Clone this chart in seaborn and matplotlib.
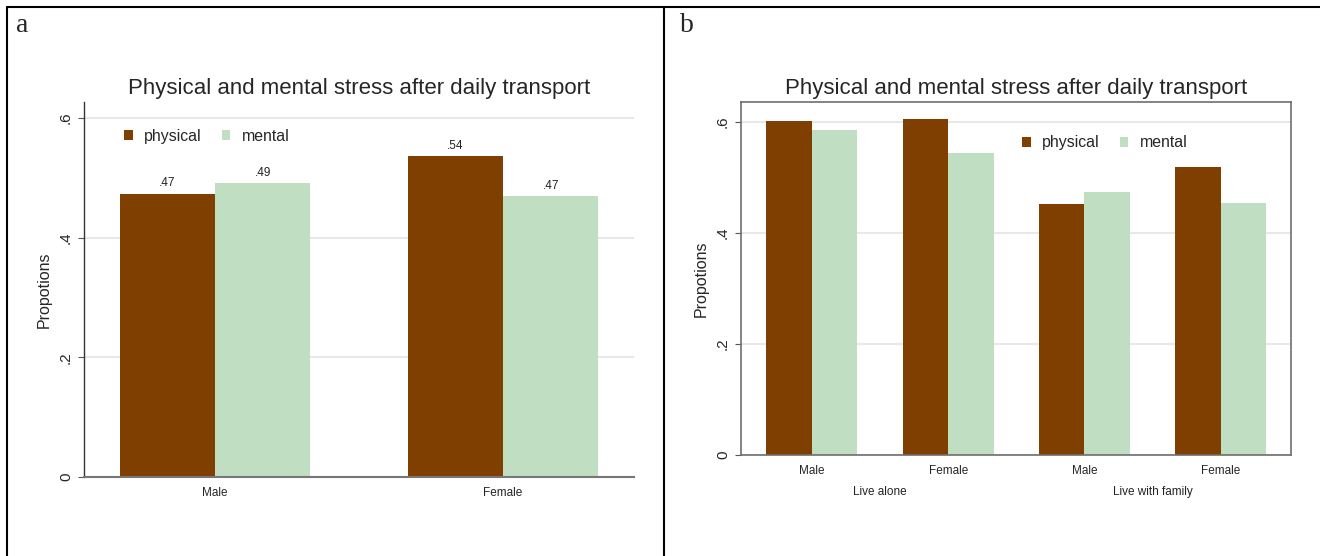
import matplotlib
matplotlib.use("Agg")
import matplotlib.pyplot as plt
import matplotlib.transforms as mtransforms
from matplotlib.lines import Line2D
import numpy as np
import pandas as pd
import seaborn as sns

# panel a: by sex
sex = ["Male", "Female"]
physical_a = [0.474, 0.536]
mental_a = [0.491, 0.469]

# panel b: by living situation and sex
living = ["Live alone", "Live alone", "Live with family", "Live with family"]
sex_b = ["Male", "Female", "Male", "Female"]
physical_b = [0.601, 0.606, 0.452, 0.519]
mental_b = [0.586, 0.545, 0.474, 0.454]

stress_order = ["physical", "mental"]
TITLE = "Physical and mental stress after daily transport"

df_a = pd.DataFrame({
    "sex": sex * 2,
    "stress": ["physical"] * len(sex) + ["mental"] * len(sex),
    "prop": physical_a + mental_a,
})
cells = [f"{l} {s}" for l, s in zip(living, sex_b)]
df_b = pd.DataFrame({
    "cell": cells * 2,
    "stress": ["physical"] * len(cells) + ["mental"] * len(cells),
    "prop": physical_b + mental_b,
})

sns.set_theme(style="white")
plt.rcParams["font.family"] = ["Liberation Sans", "DejaVu Sans"]
palette = {"physical": "#7F3F00", "mental": "#C0DEC2"}

W, H = 1320, 556
fig = plt.figure(figsize=(W / 100, H / 100), dpi=100)
ax_a = fig.add_axes([84 / W, (H - 477) / H, 550 / W, 375 / H])
ax_b = fig.add_axes([741 / W, (H - 455) / H, 550 / W, 353 / H])

sns.barplot(data=df_a, x="sex", y="prop", hue="stress", hue_order=stress_order,
            order=sex, palette=palette, width=0.663, saturation=1,
            linewidth=0, ax=ax_a)
sns.barplot(data=df_b, x="cell", y="prop", hue="stress", hue_order=stress_order,
            order=cells, palette=palette, width=0.668, saturation=1,
            linewidth=0, ax=ax_b)

# value labels only on panel a
for cont in ax_a.containers:
    ax_a.bar_label(cont, labels=[f"{v:.2f}".lstrip("0") for v in cont.datavalues],
                   padding=3, fontsize=8.5, color="#222222")


def style(ax, ymax, xlim, legend_xy):
    ax.set_ylim(0, ymax)
    ax.set_xlim(*xlim)
    ax.set_yticks([0, 0.2, 0.4, 0.6])
    ax.set_yticklabels(["0", ".2", ".4", ".6"])
    ax.tick_params(axis="y", length=4, width=0.8, color="#555555",
                   labelsize=11, pad=4, left=True)
    for lbl in ax.get_yticklabels():
        lbl.set_rotation(90)
        lbl.set_va("center")
    ax.tick_params(axis="x", length=0, labelsize=8.5, pad=7)
    ax.set_xlabel("")
    ax.set_ylabel("Propotions", fontsize=11.5, labelpad=5)
    ax.set_axisbelow(True)
    ax.yaxis.grid(True, color="#E8E8E8", linewidth=1.5)
    ax.set_title(TITLE, fontsize=16, pad=6)
    handles, labels = ax.get_legend_handles_labels()
    ax.get_legend().remove()
    ax.legend(handles, labels, loc="center left", bbox_to_anchor=legend_xy,
              ncol=2, frameon=False, fontsize=11.4, handlelength=0.55,
              handleheight=0.55, handletextpad=0.7, columnspacing=1.28)


style(ax_a, 0.627, (-0.455, 1.455), (0.047, 0.909))
style(ax_b, 0.636, (-0.52, 3.515), (0.485, 0.884))

ax_a.spines["top"].set_visible(False)
ax_a.spines["right"].set_visible(False)
ax_a.spines["left"].set_color("#333333")
ax_a.spines["left"].set_linewidth(1.0)
ax_a.spines["bottom"].set_color("#777777")
ax_a.spines["bottom"].set_linewidth(1.5)

for sp in ax_b.spines.values():
    sp.set_color("#6E6E6E")
    sp.set_linewidth(1.2)

ax_b.set_xticklabels(sex_b)
trans = mtransforms.blended_transform_factory(ax_b.transData, ax_b.transAxes)
for grp in ["Live alone", "Live with family"]:
    xpos = np.mean([i for i, l in enumerate(living) if l == grp])
    ax_b.text(xpos, -0.105, grp, transform=trans, ha="center", va="center",
              fontsize=8.5, color="#222222")

# panel letters and frame lines
fig.text(22 / W, 1 - 25 / H, "a", family="Liberation Serif", fontsize=20,
         ha="center", va="center")
fig.text(687 / W, 1 - 25 / H, "b", family="Liberation Serif", fontsize=20,
         ha="center", va="center")
for xs, ys in [([7 / W, 1], [1 - 7 / H, 1 - 7 / H]),
               ([7 / W, 7 / W], [0, 1 - 7 / H]),
               ([664 / W, 664 / W], [0, 1 - 7 / H])]:
    fig.add_artist(Line2D(xs, ys, transform=fig.transFigure, color="black", lw=1.5))

fig.savefig("out.png", dpi=100)
